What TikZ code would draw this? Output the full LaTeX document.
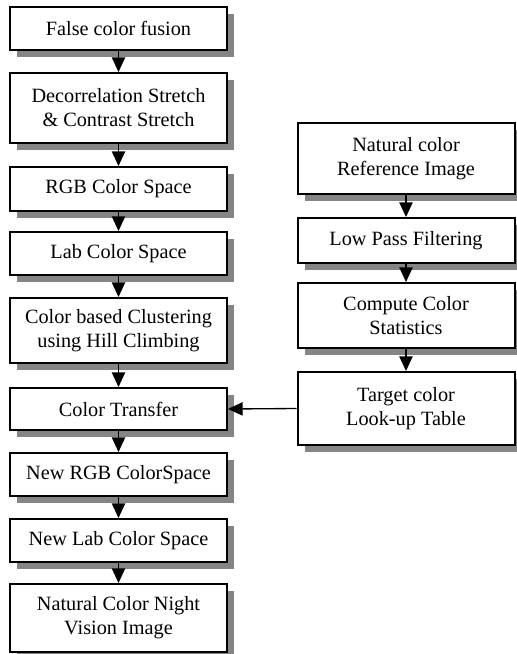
\documentclass[tikz,border=0pt]{standalone}
\usepackage{fontspec}
\setmainfont{Liberation Serif}
\usetikzlibrary{shadows,arrows.meta}
\definecolor{ShadeGray}{HTML}{858585}
\tikzset{
  stepbox/.style={
    draw=black, line width=1.5pt, fill=white,
    minimum width=162.75pt, inner sep=2pt, align=center,
    font=\fontsize{15.2}{18}\selectfont,
    drop shadow={shadow xshift=5.5pt, shadow yshift=-5.5pt,
                 opacity=1, fill=ShadeGray},
  },
  flow/.style={line width=1pt,
    -{Triangle[length=11pt,width=10pt]}},
}

\begin{document}
\begin{tikzpicture}[x=0.75pt, y=-0.75pt]
        \useasboundingbox (0,0) rectangle (517,654);
        % main chain
        \node[stepbox, minimum height=32.25pt] (fuse)     at (118.5,28.5)  {False color fusion};
        \node[stepbox, minimum height=52.5pt]  (stretch)  at (118.5,108)   {Decorrelation Stretch\\\& Contrast Stretch};
        \node[stepbox, minimum height=33pt]    (rgb)      at (118.5,189)   {RGB Color Space};
        \node[stepbox, minimum height=32.25pt] (lab)      at (118.5,253.5) {Lab Color Space};
        \node[stepbox, minimum height=48.75pt] (cluster)  at (118.5,330.5) {Color based Clustering\\using Hill Climbing};
        \node[stepbox, minimum height=31.5pt]  (transfer) at (118.5,409)   {Color Transfer};
        \node[stepbox, minimum height=32.25pt] (newrgb)   at (118.5,474.5) {New RGB ColorSpace};
        \node[stepbox, minimum height=32.25pt] (newlab)   at (118.5,540.5) {New Lab Color Space};
        \node[stepbox, minimum height=51pt]    (night)    at (118.5,618)   {Natural Color Night\\Vision Image};
        % reference chain
        \node[stepbox, minimum height=53.25pt] (natref)   at (406,158.5)   {Natural color\\Reference Image};
        \node[stepbox, minimum height=33.75pt] (lowpass)  at (406,240.5)   {Low Pass Filtering};
        \node[stepbox, minimum height=48.75pt] (stats)    at (406,315.5)   {Compute Color\\Statistics};
        \node[stepbox, minimum height=54.75pt] (target)   at (406,408.5)   {Target color\\Look-up Table};
        % arrows
        \foreach \a/\b in {fuse/stretch, stretch/rgb, rgb/lab, lab/cluster,
          cluster/transfer, transfer/newrgb, newrgb/newlab, newlab/night,
          natref/lowpass, lowpass/stats, stats/target}
          \draw[flow] (\a.south) -- (\b.north);
        \draw[flow] (target.west) -- (transfer.east);
      \end{tikzpicture}
\end{document}
